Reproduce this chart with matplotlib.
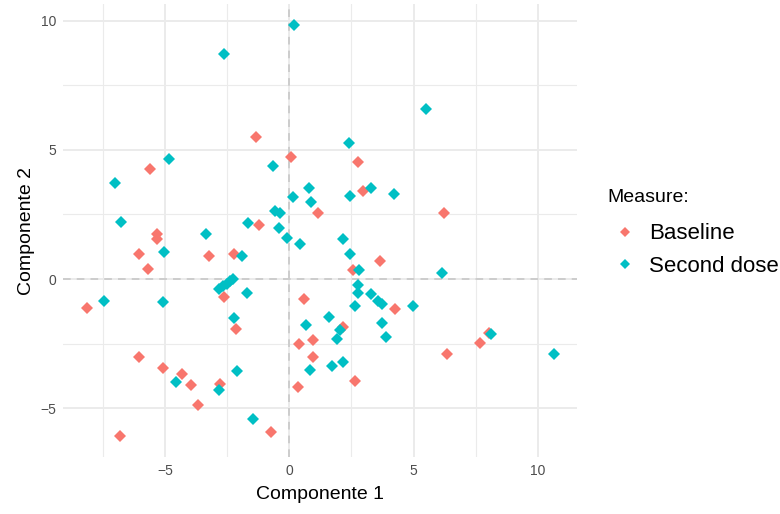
import numpy as np
import matplotlib.pyplot as plt
from matplotlib.lines import Line2D

# Componentes (PCA)
base_x = [-1.35, 0.07, -5.62, -1.22, -5.35, -5.35, 2.77, 2.96, 1.15, 6.21,
          -6.06, -5.69, -3.24, -2.24, -2.62, -8.17, -2.16, -6.06, -5.10, -4.34,
          -3.98, -2.79, -3.67, -0.74, -6.81, 3.63, 2.58, 0.57, 4.27, 2.17,
          0.40, 0.96, 0.96, 0.35, 2.66, 6.35, 7.66, 8.04]
base_y = [5.51, 4.74, 4.25, 2.08, 1.73, 1.54, 4.53, 3.41, 2.57, 2.57,
          0.99, 0.39, 0.89, 0.96, -0.69, -1.11, -1.94, -3.01, -3.43, -3.68,
          -4.09, -4.04, -4.88, -5.90, -6.08, 0.71, 0.35, -0.75, -1.15, -1.87,
          -2.49, -2.36, -3.01, -4.16, -3.92, -2.90, -2.48, -2.10]

dose_x = [0.20, -2.62, -4.85, -0.67, -7.03, 0.15, -0.60, -0.38, -6.80, -1.65,
          -0.42, -0.10, -3.36, 0.42, 5.51, 2.40, 0.78, 3.28, 0.89, 2.45,
          4.22, 2.15, -5.04, -1.92, -2.82, -2.66, -2.52, -2.39, -2.28, -1.72,
          -7.48, -5.10, -2.24, -4.56, -2.83, -2.10, -1.48, 2.45, 2.82, 6.16,
          2.78, 2.78, 3.27, 3.56, 3.73, 4.98, 2.66, 1.59, 0.65, 3.73,
          2.02, 1.91, 3.90, 1.71, 2.15, 0.83, 8.13, 10.65]
dose_y = [9.84, 8.70, 4.66, 4.38, 3.71, 3.16, 2.63, 2.54, 2.21, 2.16,
          1.96, 1.61, 1.73, 1.37, 6.58, 5.26, 3.54, 3.54, 3.00, 3.23,
          3.29, 1.55, 1.06, 0.89, -0.40, -0.27, -0.17, -0.07, 0.00, -0.55,
          -0.85, -0.90, -1.52, -3.98, -4.29, -3.55, -5.42, 0.96, 0.35, 0.22,
          -0.23, -0.55, -0.59, -0.85, -0.97, -1.03, -1.03, -1.46, -1.76, -1.69,
          -1.98, -2.30, -2.23, -3.36, -3.20, -3.50, -2.13, -2.90]

grupos = ['Baseline', 'Second dose']
cores = ['#F8766D', '#00BFC4']

plt.rcParams['font.family'] = ['Liberation Sans', 'DejaVu Sans']

fig = plt.figure(figsize=(7.8, 5.14), dpi=100)
ax = fig.add_axes([0.081, 0.111, 0.659, 0.881])

ax.axhline(0, color='#C4C4C4', linestyle=(0, (5, 4)), linewidth=1.1, zorder=1)
ax.axvline(0, color='#C4C4C4', linestyle=(0, (5, 4)), linewidth=1.1, zorder=1)

ax.plot(base_x, base_y, 'D', color=cores[0], markersize=6, markeredgewidth=0, zorder=3)
ax.plot(dose_x, dose_y, 'D', color=cores[1], markersize=6, markeredgewidth=0, zorder=3)

allx = base_x + dose_x
ally = base_y + dose_y
dx = (max(allx) - min(allx)) * 0.05
dy = (max(ally) - min(ally)) * 0.05
ax.set_xlim(min(allx) - dx, max(allx) + dx)
ax.set_ylim(min(ally) - dy, max(ally) + dy)

ax.set_xticks([-5, 0, 5, 10])
ax.set_yticks([-5, 0, 5, 10])
ax.set_xticks([-7.5, -2.5, 2.5, 7.5], minor=True)
ax.set_yticks([-2.5, 2.5, 7.5], minor=True)
ax.grid(True, which='major', color='#EBEBEB', linewidth=1.4, zorder=0)
ax.grid(True, which='minor', color='#EBEBEB', linewidth=0.8, zorder=0)
ax.set_axisbelow(True)
ax.tick_params(which='both', length=0, labelsize=10, labelcolor='#4D4D4D', pad=5)
for s in ax.spines.values():
    s.set_visible(False)

ax.set_xlabel('Componente 1', fontsize=14, labelpad=6)
ax.set_ylabel('Componente 2', fontsize=14, labelpad=4)

# legenda
fig.text(607 / 780, 1 - 197 / 514, 'Measure:', fontsize=14, ha='left', va='center')
handles = [Line2D([], [], marker='D', linestyle='', color=c, markersize=5, markeredgewidth=0)
           for c in cores]
leg = fig.legend(handles, grupos, loc='center left',
                 bbox_to_anchor=(608 / 780, 1 - 250 / 514), frameon=False, fontsize=16,
                 handlelength=1.5, handletextpad=0.35, labelspacing=0.5,
                 borderpad=0, borderaxespad=0)

fig.savefig('out.png', dpi=100)
